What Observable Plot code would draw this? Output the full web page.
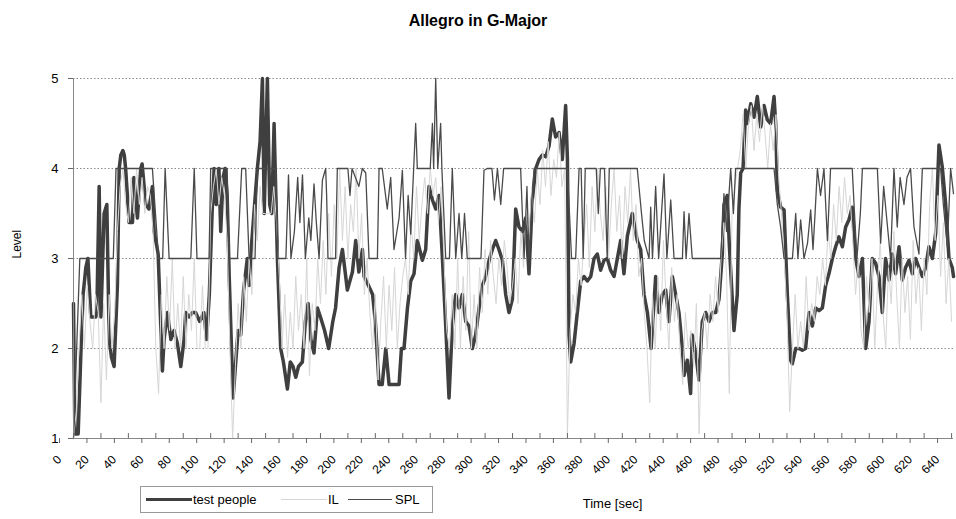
<!DOCTYPE html>
<html><head><meta charset="utf-8">
<script src="https://cdn.jsdelivr.net/npm/d3@7"></script>
<script src="https://cdn.jsdelivr.net/npm/@observablehq/plot@0.6"></script>
<style>
body{margin:0;background:#fff;font-family:"Liberation Sans",Arial,sans-serif;}
#wrap{position:relative;width:956px;height:519px;overflow:hidden;}
#title{position:absolute;left:0;top:12px;width:956px;text-align:center;font-weight:bold;font-size:16px;color:#000;}
#chart{position:absolute;left:0;top:40px;}
#legend{position:absolute;left:140px;top:486px;width:293px;height:27px;border:1px solid #999;box-sizing:border-box;font-size:13px;background:#fff;}
#legend .sw{position:absolute;top:12px;}
#legend .lb{position:absolute;top:5px;line-height:15px;}
</style></head>
<body><div id="wrap"><div id="title">Allegro in G-Major</div><div id="chart"></div>
<div id="legend">
<div class="sw" style="left:5px;width:46px;border-top:3.5px solid #3f3f3f;top:11px"></div><div class="lb" style="left:52px">test people</div>
<div class="sw" style="left:140px;width:46px;border-top:1px solid #d6d6d6"></div><div class="lb" style="left:187px">IL</div>
<div class="sw" style="left:207px;width:44px;border-top:1.3px solid #4a4a4a"></div><div class="lb" style="left:254px">SPL</div>
</div></div>
<script>
// ---- data ----
const xTicks = [0,20,40,60,80,100,120,140,160,180,200,220,240,260,280,300,320,340,360,380,400,420,440,460,480,500,520,540,560,580,600,620,640];
const yTicks = [1,2,3,4,5];

const tpTime = [0,1,3.4,5.5,7,9,10.5,12.6,16.3,17,18.7,20,22.3,24.3,26,27.7,29.6,32,33.3,34.5,36,37,38,39.3,40.5,43,44,46.6,49,50,52.7,55,57.5,58.8,61.7,63,64.8,66,68.5,71,73.3,75.8,78.2,80.6,81.8,84.3,86.7,89,92,95,97,99,101,102.5,104,106,107.3,109,110.5,112,113.5,116.3,118,120,121.9,124,126.7,128,130,132,134,136,137.7,139,141.3,143,144.5,146.2,148.6,151,153,155.9,158,160,162,164,166.8,169,171,173,175.3,177.8,180,183,186,189,191,193.6,196,199.6,203.3,205.7,208,210.6,211.8,215,218,220,222.7,225,227.6,230,237.3,239,240.9,243.4,245.8,248.2,250.6,254.3,256.7,259.1,261.6,264,266.4,268.9,271.3,273.7,276.1,278.6,281,283.4,285.9,288.3,290.7,293.1,295.6,298,300.4,302.9,305.3,307.7,310.1,312.6,315,317.4,319.9,322.3,324.7,327.2,329.6,332,334.4,336.9,339.3,341.7,344.2,346.6,349,351.4,353.9,356.3,358.7,360,361.2,362.4,364.8,367.2,369.7,372.1,374.5,377,379.4,381.8,384.2,386.7,389.1,391.5,394,396.4,398.8,401.2,403.7,407.3,410.9,413.4,415.8,418.3,421,424.3,426.8,429.2,431.6,434,436.5,438.9,441.3,443.8,445,447.4,449.8,451,453.5,455.9,458.3,460.8,463.2,465.6,468.1,470.5,472.9,474.1,476.5,478,481.4,483.8,485,486.3,488,489.9,491.1,493.6,496,498.4,500.9,503.3,505.7,508.1,510.6,511.8,513,515.4,517.9,520.3,522.7,523.9,526.4,528.8,531.2,533.6,536.1,538.5,541,543.4,545.8,548.2,550.6,553.1,555.5,557.9,560.4,562.8,565.2,567.6,570.1,572.5,575,577.4,579.8,582.2,584.6,587.1,589.5,591.9,594.4,596.8,599.2,601.7,604.1,606.5,609,611.4,613.8,616.2,618.7,621.1,623.5,626,628.4,630.8,633.2,635.7,638.1,640.5,641.4];
const tpLevel = [2.5,1.05,1.05,2.0,2.6,2.9,3.0,2.35,2.35,2.4,3.8,2.35,3.5,3.6,2.1,1.9,1.8,2.7,4.0,4.15,4.2,4.15,4.0,3.7,3.4,3.4,3.9,3.45,4.0,4.05,3.6,3.55,3.8,3.3,3.05,2.5,1.75,2.1,2.4,2.1,2.2,2.05,1.8,2.1,2.4,2.35,2.4,2.4,2.3,2.4,2.1,2.6,3.5,4.0,3.6,4.0,3.3,3.9,4.0,3.7,2.8,1.45,1.8,2.2,2.15,2.65,3.0,2.7,3.2,3.6,4.0,4.3,5.0,3.5,5.0,3.6,3.5,4.5,3.0,2.0,1.85,1.55,1.85,1.8,1.68,1.8,1.85,2.3,2.5,2.1,1.95,2.45,2.35,2.2,2.0,2.3,2.45,2.9,3.1,2.65,2.85,3.2,2.85,3.1,2.8,2.7,2.6,2.3,1.6,1.6,2.0,1.6,1.6,2.0,2.0,2.45,2.75,2.83,3.2,2.98,3.1,3.8,3.65,3.55,3.7,3.0,2.25,1.45,2.25,2.6,2.45,2.6,2.3,2.25,2.0,2.15,2.45,2.7,2.8,2.98,3.1,3.2,3.1,2.98,2.6,2.4,2.55,3.55,3.35,3.3,3.45,2.83,3.65,4.0,4.1,4.15,4.13,4.25,4.55,4.35,4.4,4.1,4.7,4.1,2.15,1.85,2.05,2.4,2.75,2.8,2.75,2.8,3.0,3.05,2.87,2.98,3.0,2.87,2.8,3.0,3.2,2.83,3.25,3.5,3.2,3.1,2.6,2.4,2.0,2.8,2.4,2.6,2.65,2.3,2.8,2.6,2.4,2.0,1.7,1.87,1.5,2.15,1.95,1.65,2.3,2.4,2.3,2.4,2.4,2.55,3.05,3.6,3.7,3.15,2.2,2.6,3.55,3.95,4.0,4.65,4.5,4.72,4.57,4.8,4.46,4.7,4.54,4.5,4.8,4.5,3.76,3.57,3.54,2.6,1.87,1.83,2.0,2.0,1.98,2.0,2.4,2.25,2.45,2.42,2.45,2.7,2.83,3.0,3.13,3.24,3.13,3.35,3.43,3.57,3.0,2.8,3.0,2.0,2.3,3.0,2.95,2.8,2.4,3.0,2.76,3.05,2.83,3.13,2.76,2.9,2.98,2.83,3.0,2.9,2.8,2.9,3.13,3.0,3.28,4.26,4.02,3.6,3.0,2.9,2.8];

// IL sampled every 2 s, starting at 0 s
const IL_STEP = 2;
const ilLevel = [
1.0,1.3,2.0,2.6,2.0,2.7,2.3,2.0,2.6,2.4,
1.4,2.5,1.65,2.6,2.0,2.4,3.3,3.8,4.0,3.6,
3.4,3.9,3.5,4.0,3.6,3.9,3.5,3.8,3.7,3.3,
2.0,1.5,2.6,2.0,2.8,2.2,3.0,2.0,2.5,2.0,
2.8,2.0,2.6,2.2,3.0,2.0,2.0,2.7,2.0,2.0,
3.5,3.8,4.0,3.6,3.9,3.7,3.2,2.0,1.0,1.8,
2.5,2.0,2.8,2.3,3.0,2.6,3.6,3.2,3.8,3.5,
3.5,3.5,3.5,3.8,3.4,2.8,2.0,2.6,1.9,2.4,
2.0,2.8,2.2,2.6,2.0,3.0,1.7,2.5,2.2,3.0,
2.5,3.2,2.6,3.5,2.8,3.6,3.0,4.0,3.2,3.8,
3.0,3.6,3.3,4.0,3.0,3.5,2.6,3.0,2.4,2.0,
2.6,1.65,2.3,2.8,2.0,2.7,2.2,2.9,2.0,2.5,
2.8,3.0,2.6,3.4,3.0,3.8,3.2,3.6,3.9,3.5,
4.0,3.7,3.9,3.4,3.8,3.0,2.2,2.0,2.6,2.0,
3.0,2.0,2.8,2.2,3.3,2.0,2.6,2.0,2.9,2.4,
3.1,2.6,3.2,2.8,2.5,3.0,2.7,3.2,2.9,2.5,
2.7,3.0,2.5,3.3,2.9,3.5,3.2,3.8,3.4,4.0,
3.6,4.2,3.8,4.3,3.7,4.1,3.9,4.4,3.8,4.0,
1.05,2.2,2.6,2.4,3.0,2.7,3.2,3.6,2.9,3.8,
3.3,4.0,3.5,3.2,3.8,3.0,3.6,4.0,3.3,3.7,
3.0,3.8,3.4,4.0,3.2,3.6,2.8,3.0,2.4,2.0,
1.4,2.6,2.0,2.8,2.2,3.2,2.5,2.0,2.9,2.3,
2.6,2.0,1.6,2.4,2.0,2.2,1.8,2.5,1.05,2.2,
2.4,2.0,2.6,2.3,2.8,2.4,3.0,3.4,2.8,1.5,
3.5,3.8,4.0,4.2,4.6,4.0,4.5,4.7,4.2,4.6,
4.3,4.7,4.4,4.0,4.5,4.2,4.6,3.9,3.5,3.0,
2.4,1.3,2.0,2.6,2.0,2.3,2.0,2.8,2.2,2.5,
2.3,2.8,2.6,3.0,2.7,3.3,3.0,3.6,3.2,3.8,
3.4,3.9,3.5,3.7,3.2,2.6,3.0,2.2,2.0,2.8,
2.4,3.0,2.0,2.7,3.2,2.4,2.0,2.9,2.5,3.3,
2.6,2.0,3.0,2.4,2.8,2.1,3.2,2.5,2.9,2.2,
3.0,2.6,3.6,4.0,3.2,3.7,2.8,3.4,2.5,3.0,
2.3];

const splTime = [0,4.6,29,31,57.5,62,65,66.8,69.7,85.5,88,90,98.8,100,112,113.4,119.5,122.6,125.5,128,132.3,134,147.4,149,154.8,156.7,158.5,161,163.4,165,166.9,169,171.5,173,175.3,177,179,181.4,183.8,184.5,185.5,191,192.3,200,201.5,203,205.5,208,210.5,213,215.4,221.5,222.7,225,228.7,231.2,233.6,237.3,239.7,242,243.9,245.8,249.4,250.6,260,261.6,262.5,264,265.5,267.6,268.5,271.3,274,276.1,278.6,281,283,285,287,297,299.2,301.6,305,306.8,309,311.4,313.5,325.9,328.4,330.5,332,334,335.7,355,360,363,366,368.5,370,371.5,373,381,382.5,384,387,389,390.5,410.9,414,416,419.5,420.7,422,424.3,426.5,430.4,432.5,435.3,437.7,443.8,445,446.5,448.6,451,471.7,474.1,476,479,481,482.6,510.6,513,515.4,517.9,524,526.4,528,530,532.4,535,537.3,539,540.5,542.2,544.5,547,549.5,551.8,567.6,568.9,571,573.5,575,585.9,588.3,590.5,593,595.5,598,600.4,602.5,605.3,607.5,610.1,612.6,616.2,618.7,632,634,636.9,639.3,641.4];
const splLevel = [1.0,3.0,3.0,4.0,4.0,3.0,3.0,4.0,3.0,3.0,4.0,3.0,3.0,4.0,4.0,3.0,3.0,4.0,4.0,3.0,3.0,4.0,4.0,3.0,3.0,3.93,3.0,3.3,3.9,3.4,3.93,3.0,3.45,3.2,3.83,3.4,3.0,3.87,4.0,3.7,3.0,3.0,4.0,4.0,3.7,4.0,3.9,3.8,4.0,3.95,3.0,3.0,4.0,4.0,3.55,3.9,3.1,3.45,3.98,3.0,3.7,3.27,4.5,4.0,4.0,4.5,4.0,5.0,4.0,4.5,4.0,3.0,3.0,4.0,3.0,3.5,3.0,3.5,3.0,3.0,3.98,4.0,4.0,3.65,4.0,3.6,4.0,4.0,3.0,3.8,3.0,3.6,4.0,4.0,4.0,3.0,3.0,4.0,4.0,3.0,4.0,4.0,3.5,4.0,4.0,3.0,4.0,4.0,3.5,3.2,3.0,3.57,3.0,3.8,3.0,3.94,3.0,3.65,3.0,3.0,3.52,3.0,3.5,3.0,3.0,3.72,3.3,4.0,3.5,4.0,4.0,3.6,3.35,3.0,3.0,3.5,3.0,3.43,3.0,3.17,3.54,3.1,3.5,4.0,3.7,4.0,3.2,4.0,4.0,3.6,3.0,3.5,4.0,4.0,3.17,3.8,3.4,3.0,4.0,3.35,3.9,3.6,3.9,4.0,3.35,3.05,4.0,4.0,3.6,3.13,4.0,3.72];

// ---- build ----
const tp = tpTime.map((t, i) => ({t, v: tpLevel[i], s: "test people"}));
const il = ilLevel.map((v, i) => ({t: i * IL_STEP, v, s: "IL"}));
const spl = splTime.map((t, i) => ({t, v: splLevel[i], s: "SPL"}));

const chart = Plot.plot({
  width: 956, height: 479,
  marginLeft: 73, marginRight: 3, marginTop: 38, marginBottom: 81,
  style: {fontFamily: "Liberation Sans, Arial, sans-serif", background: "white", color: "#000"},
  x: {domain: [0, 641.4]},
  y: {domain: [1, 5]},
  marks: [
    Plot.gridY(yTicks.filter(d => d > 1), {stroke: "#8c8c8c", strokeOpacity: 1, strokeDasharray: "1.5,2"}),
    Plot.line(tp, {x: "t", y: "v", stroke: "#3f3f3f", strokeWidth: 3.5, strokeLinejoin: "round"}),
    Plot.line(il, {x: "t", y: "v", stroke: "#d6d6d6", strokeWidth: 1}),
    Plot.line(spl, {x: "t", y: "v", stroke: "#4a4a4a", strokeWidth: 1.3}),
    Plot.ruleX([0], {stroke: "#888"}),
    Plot.ruleY([1], {stroke: "#888"}),
    Plot.ruleX(xTicks, {x: d => d, y1: 1, y2: 1.055, stroke: "#666"}),
    Plot.axisY({ticks: yTicks, tickFormat: d => String(d), tickSize: 5, tickPadding: 10, label: null, fontSize: 13, stroke: "#666"}),
    Plot.axisX({ticks: xTicks, tickFormat: d => String(d), tickSize: 5, tickPadding: 14, tickRotate: -45, dx: -14, label: null, fontSize: 12, stroke: "#666"}),
    Plot.text(["Level"], {frameAnchor: "left", dx: -56, rotate: -90, fontSize: 12}),
    Plot.text(["Time [sec]"], {frameAnchor: "bottom", dx: 99, dy: 69, fontSize: 13})
  ]
});
document.getElementById("chart").appendChild(chart);
</script>
</body></html>
